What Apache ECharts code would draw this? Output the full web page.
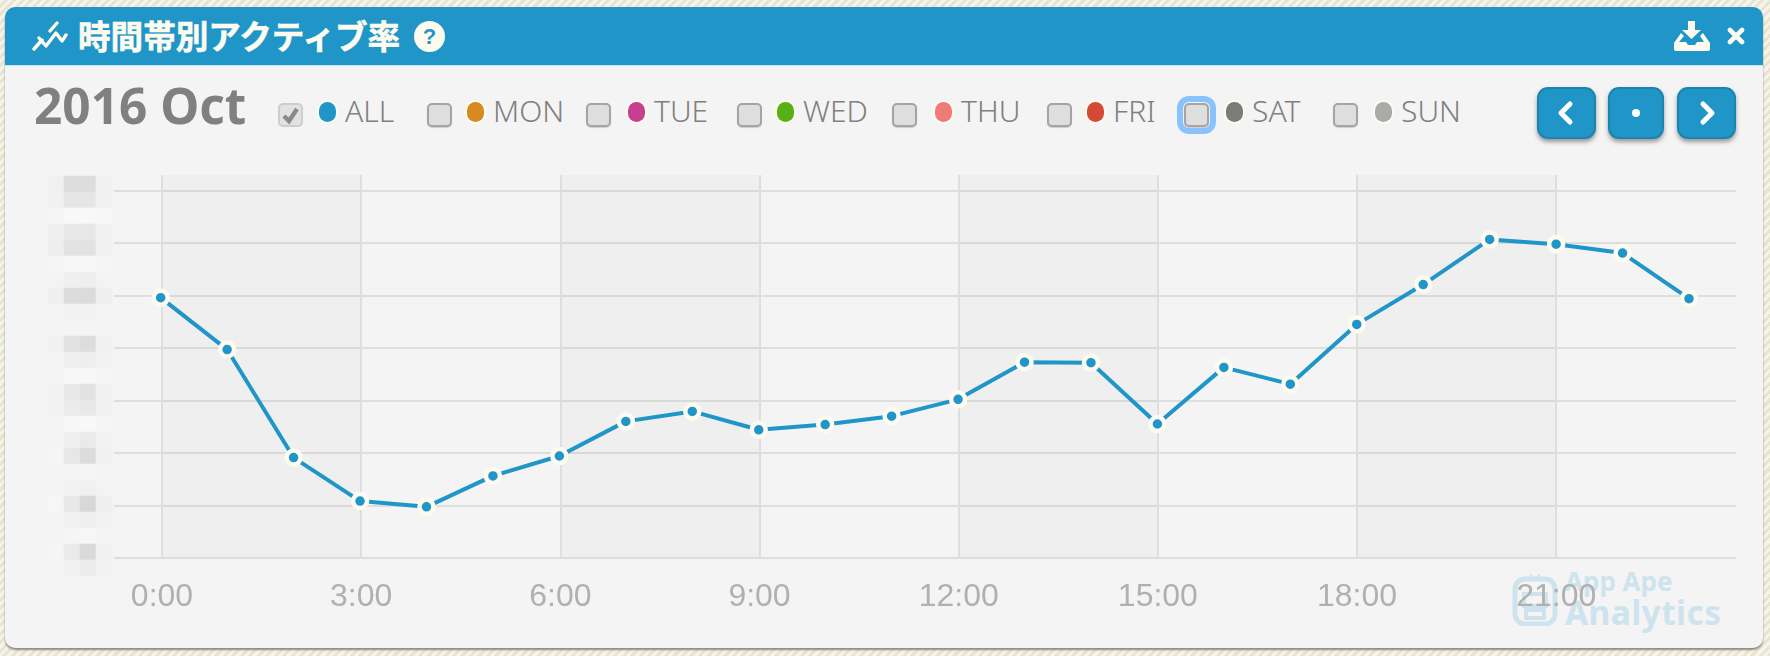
<!DOCTYPE html>
<html>
<head>
<meta charset="utf-8">
<title>時間帯別アクティブ率</title>
<script src="https://cdn.jsdelivr.net/npm/echarts@6/dist/echarts.min.js"></script>
<style>
html, body { margin: 0; padding: 0; width: 1770px; height: 656px; overflow: hidden; }
body { background: repeating-linear-gradient(135deg, #f6f3e9 0, #f6f3e9 3px, #e8e4d4 3px, #e8e4d4 6px); font-family: "Noto Sans", sans-serif; }
#panel { position: absolute; left: 5px; top: 7px; width: 1758px; height: 641px; background: #f4f4f4; border-radius: 10px; box-shadow: 0 2px 2px #8f8c7c; }
#header { position: absolute; left: 0; top: 0; width: 100%; height: 58px; background: #1f96c7; border-radius: 10px 10px 0 0; border-bottom: 1px solid #cfe6f0; }
#title { position: absolute; left: 78px; top: 35px; transform: translateY(-50%); font: 700 32.6px/1 "Noto Sans CJK JP"; -webkit-text-stroke: 0.6px #fdfbef; color: #fdfbef; white-space: nowrap; }
#month { position: absolute; left: 34px; top: 106px; transform: translateY(-50%); font: 700 49.5px/1.2 "Noto Sans"; color: #808080; white-space: nowrap; }
#chart { position: absolute; left: 0; top: 0; width: 1770px; height: 656px; }
.cb { position: absolute; top: 103px; width: 21px; height: 20px; background: #dedede; border: 2px solid #a4a4a4; border-radius: 5px; box-shadow: 0 1px 1px #ccc; }
.cb.on { background: #e2e2e2; border-color: #cdcdcd; box-shadow: none; }
.cb.focus { outline: 6px solid #8ac2fd; outline-offset: 1px; }
.dot { position: absolute; top: 102px; width: 17px; height: 20px; border-radius: 9px; box-shadow: 0 0 0 2px #fdfbef; }
.lab { position: absolute; top: 111px; transform: translateY(-50%); font: 300 30px/1.2 "Noto Sans"; color: #808080; white-space: nowrap; }
.btn { position: absolute; top: 87px; height: 48px; background: #1f96c7; border: 2px solid #1b85b1; border-radius: 11px; box-shadow: 0 3px 4px #999; }
.btn svg { position: absolute; left: 0; top: 0; width: 100%; height: 100%; }
svg.ic { position: absolute; }
#mark1, #mark2 { position: absolute; font-family: "Noto Sans"; font-weight: 700; color: #cde3ee; white-space: nowrap; line-height: 1; }
</style>
</head>
<body>
<div id="panel"><div id="header"></div></div>

<svg class="ic" style="left:32px;top:20px" width="36" height="32" viewBox="0 0 36 32">
	<path d="M2 29 L10 20 M7 18 L14 26 L24 13 L30 21 L34 15 M18 11 L25 3" fill="none" stroke="#fdfbef" stroke-width="3.4" stroke-linecap="round" stroke-linejoin="round"/>
</svg>
<div id="title">時間帯別アクティブ率</div>
<svg class="ic" style="left:414px;top:21px" width="31" height="31" viewBox="0 0 31 31">
	<circle cx="15.5" cy="15.5" r="15.5" fill="#fdfbef"/>
	<text x="15.5" y="23" text-anchor="middle" font-family="Liberation Sans" font-weight="700" font-size="22" fill="#1f96c7">?</text>
</svg>
<svg class="ic" style="left:1674px;top:20px" width="36" height="31" viewBox="0 0 36 31">
	<path d="M14 1 H21 V10 H27 L17.5 19 L8 10 H14 Z" fill="#fdfbef"/>
	<path d="M7 13 L0 23 V29 Q0 31 2 31 H34 Q36 31 36 29 V23 L29 13 L26 16 L30 22 H23 L21 25 H14 L12 22 H5 L10 16 Z" fill="#fdfbef"/>
</svg>
<svg class="ic" style="left:1727px;top:27px" width="18" height="18" viewBox="0 0 18 18">
	<path d="M3 3 L15 15 M15 3 L3 15" stroke="#fdfbef" stroke-width="4.6" stroke-linecap="round"/>
</svg>

<div id="month">2016 Oct</div>
<div id="legend"></div>

<div class="btn" style="left:1537px;width:55px"><svg viewBox="0 0 55 48"><path d="M31 15 L22 24 L31 33" fill="none" stroke="#fff" stroke-width="5" stroke-linecap="round" stroke-linejoin="round"/></svg></div>
<div class="btn" style="left:1608px;width:52px"><svg viewBox="0 0 52 48"><circle cx="26" cy="24" r="4" fill="#fff"/></svg></div>
<div class="btn" style="left:1677px;width:55px"><svg viewBox="0 0 55 48"><path d="M24 15 L33 24 L24 33" fill="none" stroke="#fff" stroke-width="5" stroke-linecap="round" stroke-linejoin="round"/></svg></div>

<svg class="ic" style="left:1512px;top:572px" width="46" height="54" viewBox="0 0 46 54">
	<path d="M16 6 L19 2 L23 6 L27 2 L30 6 Z" fill="#cde3ee"/>
	<rect x="3" y="7" width="40" height="45" rx="10" fill="none" stroke="#cde3ee" stroke-width="5"/>
	<path d="M12 22 H34 V34 H12 Z M14 38 H32 V46 H14 Z" fill="none" stroke="#cde3ee" stroke-width="4"/>
</svg>
<div id="mark1" style="left:1565px;top:568px;font-size:26px">App Ape</div>
<div id="mark2" style="left:1565px;top:596px;font-size:33.5px;letter-spacing:0.4px">Analytics</div>

<div id="chart"></div>

<script>
// 時間帯別アクティブ率 2016 Oct
var hours = ['0:00', '1:00', '2:00', '3:00', '4:00', '5:00', '6:00', '7:00', '8:00', '9:00', '10:00', '11:00',
	'12:00', '13:00', '14:00', '15:00', '16:00', '17:00', '18:00', '19:00', '20:00', '21:00', '22:00', '23:00'];
var active_all = [4.96, 3.97, 1.91, 1.08, 0.97, 1.56, 1.94, 2.60, 2.79, 2.44, 2.54, 2.70,
	3.02, 3.73, 3.72, 2.55, 3.63, 3.31, 4.45, 5.21, 6.07, 5.98, 5.81, 4.94];

var legend_names = ['ALL', 'MON', 'TUE', 'WED', 'THU', 'FRI', 'SAT', 'SUN'];
var legend_colors = ['#1f96c7', '#d68a20', '#c4418f', '#58b014', '#ee7b78', '#d64a35', '#7b7b78', '#aaaaa6'];

// y tick labels are pixelated in the original, gray level of each block
var mosaic_gray = [
	[240, 221, 221, 240], [241, 230, 230, 240], [245, 248, 248, 246], [239, 232, 231, 241], [238, 227, 226, 240],
	[245, 247, 247, 245], [243, 239, 238, 243], [239, 220, 219, 239], [244, 242, 242, 243], [244, 244, 244, 244],
	[241, 225, 221, 240], [243, 239, 238, 242], [244, 247, 247, 245], [242, 232, 226, 241], [242, 235, 232, 241],
	[244, 247, 248, 245], [243, 239, 234, 242], [245, 231, 220, 240], [244, 243, 245, 244], [244, 242, 240, 243],
	[246, 232, 216, 239], [244, 241, 239, 242], [244, 245, 246, 244], [245, 234, 218, 241], [244, 240, 236, 242]
];

function makeLegend() {
	var cb_x = [278, 427, 586, 737, 892, 1047, 1184, 1333];
	var dot_x = [319, 467, 628, 777, 935, 1087, 1226, 1375];
	var lab_x = [345, 493, 654, 803, 961, 1113, 1252, 1401];
	var html = '';
	for (var i = 0; i < legend_names.length; i++) {
		var cls = 'cb' + (i == 0 ? ' on' : '') + (i == 6 ? ' focus' : '');
		html += '<div class="' + cls + '" style="left:' + cb_x[i] + 'px">';
		if (i == 0) {
			html += '<svg width="21" height="20" viewBox="0 0 21 20"><path d="M4 11 L9 16 L17 4" fill="none" stroke="#8a8a8a" stroke-width="4.4"/></svg>';
		}
		html += '</div>';
		html += '<div class="dot" style="left:' + dot_x[i] + 'px;background:' + legend_colors[i] + '"></div>';
		html += '<div class="lab" style="left:' + lab_x[i] + 'px">' + legend_names[i] + '</div>';
	}
	document.getElementById('legend').innerHTML = html;
}

function makeChart() {
	var myChart = echarts.init(document.getElementById('chart'), null, { renderer: 'canvas' });
	var mosaic_data = [];
	for (var r = 0; r < mosaic_gray.length; r++) {
		for (var c = 0; c < mosaic_gray[r].length; c++) {
			mosaic_data.push([c, r, mosaic_gray[r][c]]);
		}
	}
	var line_style = { color: '#dedede', width: 2 };
	var option = {
		backgroundColor: 'transparent',
		animation: false,
		grid: [
			// horizontal lines run wider than the hour range
			{ left: 114, right: 34, top: 190.7, bottom: 98.3 },
			// bands, vertical lines, hour labels
			{ left: 162, width: 1527, top: 175, bottom: 98.3 },
			// the line itself
			{ left: 160.7, width: 1528.3, top: 190.7, bottom: 98.3 },
			// pixelated y labels
			{ left: 48, width: 64, top: 176, height: 400 }
		],
		xAxis: [{
			gridIndex: 0,
			type: 'value',
			min: 0,
			max: 1,
			show: false
		}, {
			gridIndex: 1,
			type: 'category',
			data: hours,
			boundaryGap: false,
			axisLine: { show: false },
			axisTick: { show: false },
			axisLabel: {
				interval: 2,
				margin: 23,
				color: '#b0b0b0',
				fontSize: 32,
				fontFamily: 'Liberation Sans'
			},
			splitLine: { show: true, interval: 2, lineStyle: line_style },
			splitArea: { show: true, interval: 2, areaStyle: { color: ['rgba(0,0,0,0.02)', 'rgba(0,0,0,0)'] } }
		}, {
			gridIndex: 2,
			type: 'category',
			data: hours,
			boundaryGap: false,
			show: false
		}, {
			gridIndex: 3,
			type: 'category',
			data: [0, 1, 2, 3],
			show: false
		}],
		yAxis: [{
			gridIndex: 0,
			type: 'value',
			min: 0,
			max: 7,
			interval: 1,
			axisLine: { show: false },
			axisTick: { show: false },
			axisLabel: { show: false },
			splitLine: { show: true, lineStyle: line_style }
		}, {
			gridIndex: 1,
			type: 'value',
			min: 0,
			max: 1,
			show: false
		}, {
			gridIndex: 2,
			type: 'value',
			min: 0,
			max: 7,
			show: false
		}, {
			gridIndex: 3,
			type: 'category',
			inverse: true,
			data: mosaic_gray.map(function (row, i) { return i; }),
			show: false
		}],
		visualMap: {
			show: false,
			seriesIndex: 1,
			dimension: 2,
			min: 216,
			max: 248,
			inRange: { color: ['#d8d8d8', '#f8f8f8'] }
		},
		series: [{
			name: 'ALL',
			type: 'line',
			xAxisIndex: 2,
			yAxisIndex: 2,
			data: active_all,
			symbol: 'circle',
			symbolSize: 14,
			showAllSymbol: true,
			lineStyle: { color: '#1f96c7', width: 4 },
			itemStyle: { color: '#1f96c7', borderColor: '#fdfbef', borderWidth: 4.5 }
		}, {
			name: 'mosaic',
			type: 'heatmap',
			xAxisIndex: 3,
			yAxisIndex: 3,
			data: mosaic_data,
			silent: true
		}]
	};
	myChart.setOption(option);
	window.addEventListener('resize', function () {
		myChart.resize();
	});
}

makeLegend();
makeChart();
</script>
</body>
</html>
